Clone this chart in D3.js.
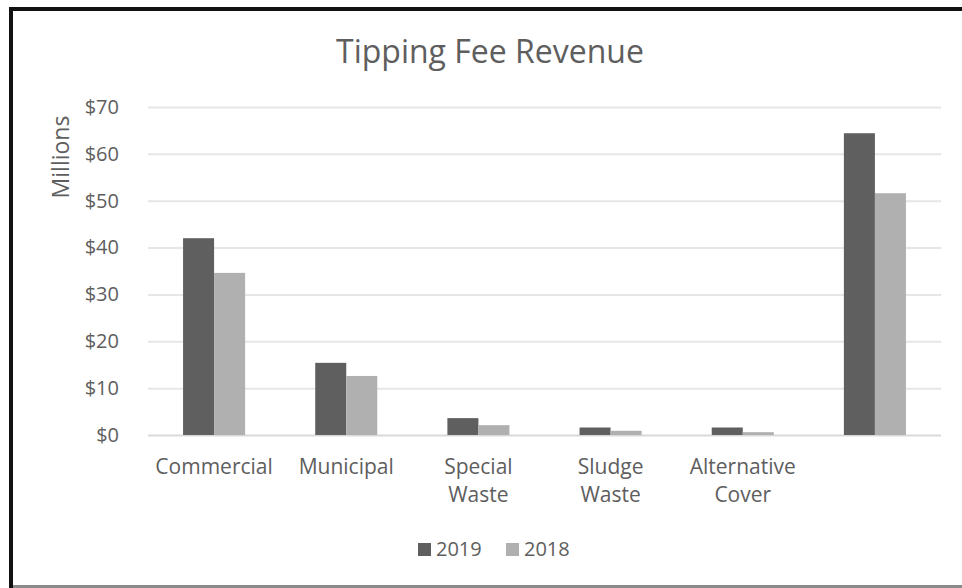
<!DOCTYPE html>
<html>
<head>
<meta charset="utf-8">
<script src="https://cdn.jsdelivr.net/npm/d3@7"></script>
<style>
  body { margin: 0; background: #fff; }
  text { font-family: "Open Sans", sans-serif; fill: #5e5e5e; }
</style>
</head>
<body>
<div id="chart"></div>
<script>
/* Chart data (millions of dollars). */
const categories = ["Commercial", "Municipal", "Special Waste", "Sludge Waste", "Alternative Cover", "Total"];
const categoryLabels = [["Commercial"], ["Municipal"], ["Special", "Waste"], ["Sludge", "Waste"], ["Alternative", "Cover"], [""]];
const seriesNames = ["2019", "2018"];
const values2019 = [42.0, 15.4, 3.6, 1.6, 1.6, 64.4];
const values2018 = [34.6, 12.6, 2.1, 0.9, 0.6, 51.6];
const yTicks = [0, 10, 20, 30, 40, 50, 60, 70];

/* Global chart parameters. */
const chartParams = {
  width: 962,
  height: 588,
  plotLeft: 148,
  plotRight: 941,
  plotTop: 107,
  plotBottom: 435
};

const seriesColor = d3.scaleOrdinal()
  .domain(seriesNames)
  .range(["#5f5f5f", "#b0b0b0"]);

const svg = d3.select("#chart")
  .append("svg")
  .attr("width", chartParams.width)
  .attr("height", chartParams.height);

/* Frame around the picture: black top and left edge, grey bottom edge. */
svg.append("rect")
  .attr("x", 9).attr("y", 7)
  .attr("width", chartParams.width - 9).attr("height", 4)
  .style("fill", "#111");
svg.append("rect")
  .attr("x", 9).attr("y", 7)
  .attr("width", 4).attr("height", chartParams.height - 7)
  .style("fill", "#111");
svg.append("rect")
  .attr("x", 13).attr("y", 585)
  .attr("width", chartParams.width - 13).attr("height", 3)
  .style("fill", "#8a8a8a");

/* Scales. */
const x0 = d3.scaleBand()
  .domain(categories)
  .range([chartParams.plotLeft, chartParams.plotRight])
  .padding(0);

const x1 = d3.scaleBand()
  .domain(seriesNames)
  .range([0, x0.bandwidth()])
  .paddingInner(0)
  .paddingOuter(1.13);

const y = d3.scaleLinear()
  .domain([0, 70])
  .range([chartParams.plotBottom, chartParams.plotTop]);

/* Title. */
svg.append("text")
  .attr("x", 490)
  .attr("y", 63)
  .attr("text-anchor", "middle")
  .style("font-size", "32px")
  .text("Tipping Fee Revenue");

/* Gridlines and y tick labels. */
const yAxis = svg.append("g")
  .attr("transform", "translate(" + chartParams.plotLeft + ",0)")
  .call(d3.axisLeft(y)
    .tickValues(yTicks)
    .tickSize(-(chartParams.plotRight - chartParams.plotLeft))
    .tickPadding(29)
    .tickFormat(d => "$" + d));
yAxis.select(".domain").remove();
yAxis.selectAll(".tick line")
  .style("stroke", d => d === 0 ? "#d9d9d9" : "#e6e6e6")
  .style("stroke-width", 2);
yAxis.selectAll(".tick text")
  .style("font-size", "20px")
  .style("font-family", "'Open Sans', sans-serif")
  .style("fill", "#5e5e5e");

/* Y axis title. */
svg.append("text")
  .attr("transform", "translate(69,157) rotate(-90)")
  .attr("text-anchor", "middle")
  .style("font-size", "23px")
  .text("Millions");

/* Bars. */
const rows = categories.map((c, i) => ({
  category: c,
  values: [
    { series: "2019", value: values2019[i] },
    { series: "2018", value: values2018[i] }
  ]
}));

svg.append("g")
  .selectAll("g")
  .data(rows)
  .join("g")
  .attr("transform", d => "translate(" + x0(d.category) + ",0)")
  .selectAll("rect")
  .data(d => d.values)
  .join("rect")
  .attr("x", d => x1(d.series))
  .attr("y", d => y(d.value))
  .attr("width", x1.bandwidth())
  .attr("height", d => y(0) - y(d.value))
  .style("fill", d => seriesColor(d.series));

/* Category labels, split over two lines where needed. */
const catLabels = svg.append("g")
  .selectAll("text")
  .data(categories)
  .join("text")
  .attr("x", d => x0(d) + x0.bandwidth() / 2)
  .attr("y", 474)
  .attr("text-anchor", "middle")
  .style("font-size", "21px");
catLabels.selectAll("tspan")
  .data((d, i) => categoryLabels[i])
  .join("tspan")
  .attr("x", function () { return d3.select(this.parentNode).attr("x"); })
  .attr("dy", (d, i) => i === 0 ? 0 : 28)
  .text(d => d);

/* Legend. */
const legendX = [418, 506];
const legend = svg.append("g")
  .selectAll("g")
  .data(seriesNames)
  .join("g")
  .attr("transform", (d, i) => "translate(" + legendX[i] + ",543)");
legend.append("rect")
  .attr("width", 13)
  .attr("height", 13)
  .style("fill", d => seriesColor(d));
legend.append("text")
  .attr("x", 18)
  .attr("y", 13)
  .style("font-size", "20px")
  .text(d => d);
</script>
</body>
</html>
